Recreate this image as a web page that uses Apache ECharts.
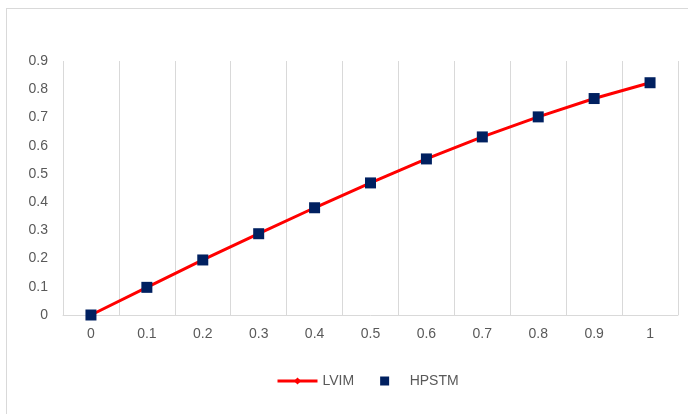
<!DOCTYPE html>
<html>
<head>
<meta charset="utf-8">
<script src="https://cdn.jsdelivr.net/npm/echarts@6/dist/echarts.min.js"></script>
<style>
  html, body { margin: 0; padding: 0; background: #fff; }
  #frame {
    position: absolute; left: 6px; top: 8px; width: 700px; height: 420px;
    border: 1px solid #d9d9d9; box-sizing: border-box;
  }
  #chart { position: absolute; left: 0; top: 0; width: 688px; height: 414px; }
</style>
</head>
<body>
<div id="frame"></div>
<div id="chart"></div>
<script>
// x categories
var categories = ["0", "0.1", "0.2", "0.3", "0.4", "0.5", "0.6", "0.7", "0.8", "0.9", "1"];
// LVIM curve
var lvimData = [0, 0.098, 0.195, 0.288, 0.380, 0.468, 0.553, 0.631, 0.702, 0.767, 0.823];
// HPSTM points
var hpstmData = [0, 0.098, 0.195, 0.288, 0.380, 0.468, 0.553, 0.631, 0.702, 0.767, 0.823];

var chart = echarts.init(document.getElementById("chart"));
var labelFont = "Liberation Sans";
var option = {
  animation: false,
  textStyle: { fontFamily: labelFont },
  grid: { left: 63, right: 10, top: 61, bottom: 99 },
  //图例
  legend: {
    left: 271,
    top: 369,
    itemWidth: 40,
    itemHeight: 9,
    itemGap: 26,
    symbolKeepAspect: true,
    textStyle: { color: "#595959", fontSize: 14, fontFamily: labelFont },
    data: [
      { name: "LVIM", lineStyle: { width: 3 } },
      { name: "HPSTM", icon: "path://M0,0h10v10h-10z" },
    ],
  },
  //横坐标
  xAxis: {
    type: "category",
    data: categories,
    boundaryGap: true,
    axisLine: { lineStyle: { color: "#d9d9d9", width: 1 } },
    axisTick: { show: false },
    axisLabel: { color: "#595959", fontSize: 14, margin: 12 },
    splitLine: { show: true, interval: 0, lineStyle: { color: "#d9d9d9", width: 1 } },
  },
  //纵坐标
  yAxis: {
    type: "value",
    min: 0,
    max: 0.9,
    interval: 0.1,
    axisLine: { show: false },
    axisTick: { show: false },
    splitLine: { show: false },
    axisLabel: {
      color: "#595959",
      fontSize: 14,
      margin: 15,
      formatter: function (v) { return String(Math.round(v * 10) / 10); },
    },
  },
  series: [
    {
      name: "LVIM",
      type: "line",
      data: lvimData,
      symbol: "diamond",
      symbolSize: 7,
      lineStyle: { color: "#ff0000", width: 3 },
      itemStyle: { color: "#ff0000" },
      z: 2,
    },
    {
      name: "HPSTM",
      type: "scatter",
      data: hpstmData,
      symbol: "rect",
      symbolSize: 11,
      itemStyle: { color: "#002060", opacity: 1 },
      z: 5,
    },
  ],
};
chart.setOption(option);
</script>
</body>
</html>
